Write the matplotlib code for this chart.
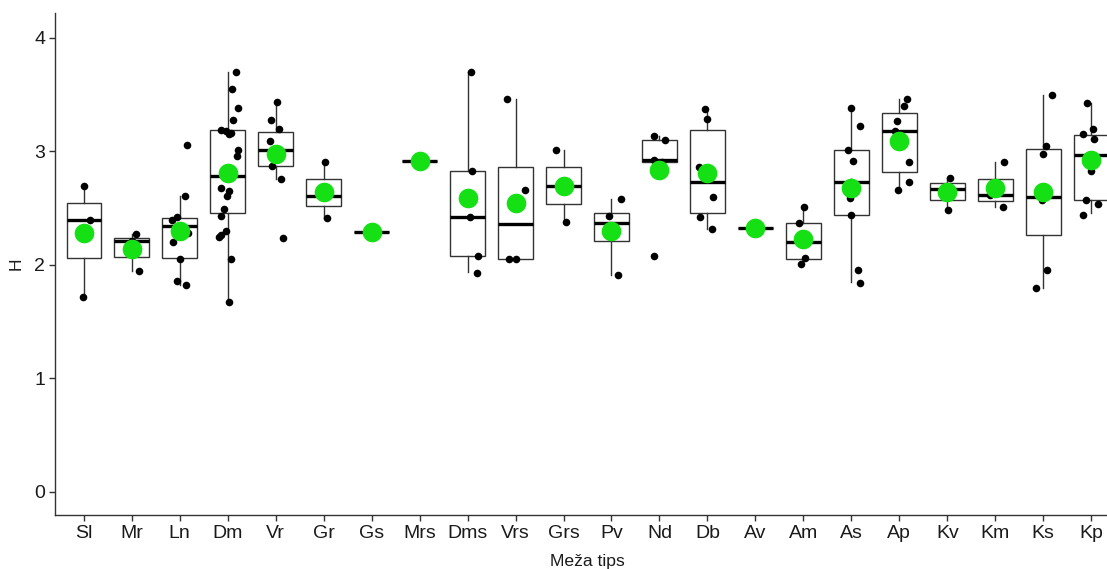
import matplotlib
matplotlib.use("Agg")
import matplotlib.pyplot as plt

plt.rcParams['font.family'] = ['Liberation Sans', 'DejaVu Sans']

# group labels
categories = ['Sl', 'Mr', 'Ln', 'Dm', 'Vr', 'Gr', 'Gs', 'Mrs', 'Dms', 'Vrs', 'Grs',
              'Pv', 'Nd', 'Db', 'Av', 'Am', 'As', 'Ap', 'Kv', 'Km', 'Ks', 'Kp']

# box statistics
q1 = [2.06, 2.07, 2.06, 2.46, 2.87, 2.52, 2.29, 2.92, 2.08, 2.05, 2.535,
      2.21, 2.91, 2.46, 2.33, 2.05, 2.44, 2.82, 2.57, 2.56, 2.26, 2.57]
medians = [2.40, 2.21, 2.34, 2.78, 3.01, 2.61, 2.29, 2.92, 2.42, 2.36, 2.70,
           2.37, 2.925, 2.73, 2.33, 2.205, 2.73, 3.18, 2.67, 2.62, 2.60, 2.97]
q3 = [2.55, 2.235, 2.41, 3.19, 3.175, 2.76, 2.29, 2.92, 2.825, 2.86, 2.86,
      2.46, 3.10, 3.19, 2.33, 2.37, 3.01, 3.34, 2.725, 2.76, 3.02, 3.145]
whisker_low = [1.72, 1.95, 1.82, 1.67, 2.76, 2.41, 2.29, 2.92, 1.94, 2.05, 2.38,
               1.91, 2.91, 2.32, 2.33, 2.01, 1.85, 2.66, 2.48, 2.51, 1.80, 2.455]
whisker_high = [2.70, 2.27, 2.61, 3.70, 3.44, 2.91, 2.29, 2.92, 3.70, 3.46, 3.01,
                2.58, 3.14, 3.37, 2.33, 2.51, 3.38, 3.46, 2.77, 2.91, 3.50, 3.43]

# group means (green dots)
means = [2.28, 2.145, 2.30, 2.81, 2.975, 2.645, 2.29, 2.92, 2.59, 2.55, 2.70,
         2.30, 2.84, 2.81, 2.33, 2.23, 2.68, 3.09, 2.64, 2.68, 2.64, 2.925]

# individual observations per group
points = [
    [2.70, 2.40, 1.72],
    [2.27, 2.21, 1.95],
    [3.06, 2.61, 2.40, 2.42, 2.28, 2.20, 2.05, 1.86, 1.82],
    [3.70, 3.55, 3.38, 3.28, 3.19, 3.18, 3.165, 3.15, 3.01, 2.96,
     2.68, 2.655, 2.61, 2.49, 2.43, 2.30, 2.26, 2.25, 2.05, 1.67],
    [3.44, 3.28, 3.20, 3.09, 2.93, 2.87, 2.76, 2.235],
    [2.91, 2.61, 2.41],
    [2.29],
    [2.92],
    [3.70, 2.825, 2.42, 2.08, 1.93],
    [3.46, 2.66, 2.055, 2.05],
    [3.01, 2.70, 2.38],
    [2.58, 2.43, 2.31, 1.91],
    [3.14, 3.10, 2.925, 2.91, 2.08],
    [3.37, 3.29, 2.86, 2.60, 2.42, 2.32],
    [2.33],
    [2.51, 2.37, 2.06, 2.01],
    [3.38, 3.22, 3.01, 2.92, 2.73, 2.59, 2.44, 1.96, 1.84],
    [3.46, 3.40, 3.27, 3.18, 2.91, 2.73, 2.66],
    [2.77, 2.67, 2.48],
    [2.91, 2.62, 2.51],
    [3.50, 3.05, 2.98, 2.60, 2.57, 1.96, 1.80],
    [3.43, 3.20, 3.15, 3.11, 2.83, 2.57, 2.54, 2.44],
]

# horizontal jitter of each point
jitter = [
    [0.0, 0.125, -0.01],
    [0.09, 0.0, 0.16],
    [0.146, 0.118, -0.167, -0.063, 0.18, -0.13, 0.0, -0.06, 0.125],
    [0.17, 0.08, 0.22, 0.12, -0.15, -0.04, 0.06, 0.02, 0.21, 0.19,
     -0.15, 0.02, -0.01, -0.08, -0.15, -0.04, -0.15, -0.19, 0.07, 0.03],
    [0.035, -0.09, 0.07, -0.11, 0.0, -0.07, 0.12, 0.16],
    [0.02, 0.0, 0.06],
    [0.0],
    [0.0],
    [0.07, 0.09, 0.06, 0.22, 0.19],
    [-0.17, 0.2, -0.14, 0.0],
    [-0.15, 0.0, 0.06],
    [0.19, -0.06, 0.0, 0.14],
    [-0.12, 0.125, -0.12, 0.05, -0.12],
    [-0.06, 0.0, -0.17, 0.12, -0.15, 0.1],
    [0.0],
    [0.02, -0.1, 0.04, -0.05],
    [0.0, 0.17, -0.08, 0.03, 0.0, -0.03, 0.0, 0.14, 0.19],
    [0.17, 0.09, -0.05, -0.1, 0.2, 0.2, -0.03],
    [0.06, 0.0, 0.01],
    [0.19, -0.1, 0.17],
    [0.18, 0.06, 0.0, 0.02, -0.03, 0.08, -0.15],
    [-0.09, 0.03, -0.18, 0.06, 0.0, -0.11, 0.15, -0.17],
]

W, H = 1107, 569
fig = plt.figure(figsize=(W / 100, H / 100), dpi=100)
# the original panel runs past the right edge of the picture
ax = fig.add_axes([55 / W, 1 - 515 / H, (1120 - 55) / W, (515 - 13) / H])

pos = list(range(1, len(categories) + 1))

stats = []
for i, c in enumerate(categories):
    stats.append(dict(label=c, q1=q1[i], med=medians[i], q3=q3[i],
                      whislo=whisker_low[i], whishi=whisker_high[i], fliers=[]))

ax.bxp(stats, positions=pos, widths=0.72, showfliers=False, showcaps=False,
       patch_artist=True,
       boxprops=dict(facecolor='white', edgecolor='#333333', linewidth=1.0),
       whiskerprops=dict(color='#333333', linewidth=1.0),
       medianprops=dict(color='black', linewidth=2.4, solid_capstyle='butt'),
       zorder=1)

# jittered observations
for i, vals in enumerate(points):
    xs = [pos[i] + j for j in jitter[i]]
    ax.scatter(xs, vals, s=30, color='black', zorder=3, linewidths=0)

# means
ax.scatter(pos, means, s=200, color='#14e014', zorder=4, linewidths=0)

ax.set_xlim(0.4, 22.6)
ax.set_ylim(-0.203, 4.22)
ax.set_yticks([0, 1, 2, 3, 4])
ax.set_xticks(pos)
ax.set_xticklabels(categories)

for s in ['top', 'right']:
    ax.spines[s].set_visible(False)
for s in ['left', 'bottom']:
    ax.spines[s].set_color('#333333')
    ax.spines[s].set_linewidth(1.0)

ax.tick_params(axis='both', length=4, width=1.0, color='#333333',
               labelsize=14, labelcolor='#1a1a1a', pad=3)

ax.set_xlabel('Meža tips', fontsize=12.6, color='#1a1a1a', labelpad=9)
ax.set_ylabel('H', fontsize=12.6, color='#1a1a1a', labelpad=8)

fig.savefig('out.png', dpi=100)
